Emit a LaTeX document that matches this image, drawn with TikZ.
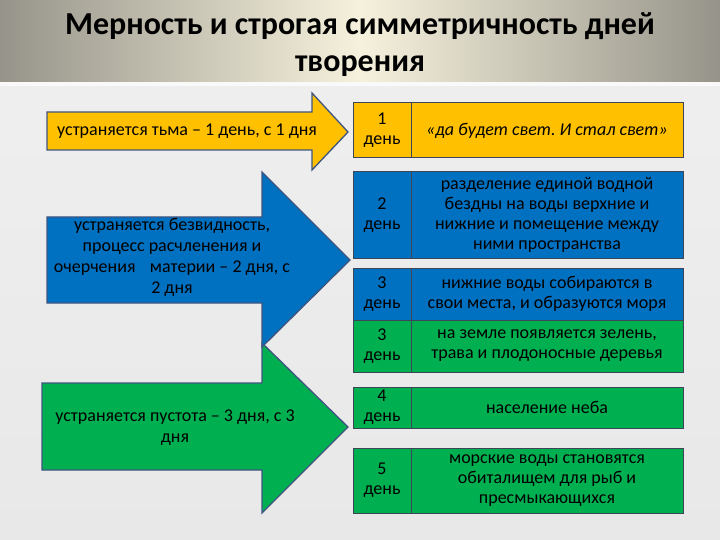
\documentclass[tikz,border=0pt]{standalone}
\usepackage{fontspec}
\setmainfont{Carlito}
\frenchspacing
\definecolor{ylw}{HTML}{FFC000}
\definecolor{blu}{HTML}{0070C0}
\definecolor{grn}{HTML}{00B050}
\definecolor{edge}{HTML}{3F5580}
\definecolor{celledge}{HTML}{3C4656}
\definecolor{bandgray}{HTML}{96948A}
\definecolor{bandlight}{HTML}{F6F1DC}
\begin{document}
\begin{tikzpicture}[x=1pt,y=-1pt,
  arrowshape/.style={draw=edge,line width=1.3pt,line join=miter},
  arrowtext/.style={align=center,font=\fontsize{18}{21}\selectfont,text=black},
  cell/.style={draw=celledge,line width=1pt,inner sep=1pt,align=center,text=black,font=\fontsize{18}{20}\selectfont},
  daycell/.style={cell,minimum width=58pt},
  txtcell/.style={cell,minimum width=272pt}]
\useasboundingbox (0,0) rectangle (720,540);
% background
\shade[top color=white!88!gray, bottom color=white!82!gray] (0,0) rectangle (720,540);
% title band
\shade[left color=bandgray, right color=bandgray, middle color=bandlight] (0,0) rectangle (720,82);
\fill[white!95!gray] (0,82) rectangle (720,86);
\node[font=\bfseries\fontsize{32}{37}\selectfont,align=center] (title) at (360,45)
  {Мерность и строгая симметричность дней\\творения};
% green arrow (under blue)
\draw[arrowshape,fill=grn] (42,383) -- (262,383) -- (262,343) -- (348,427) -- (262,513) -- (262,470) -- (42,470) -- cycle;
% blue arrow
\draw[arrowshape,fill=blu] (47,217) -- (262,217) -- (262,172) -- (350,260) -- (262,347) -- (262,303) -- (47,303) -- cycle;
% yellow arrow
\draw[arrowshape,fill=ylw] (47,112) -- (312,112) -- (312,93) -- (348,132) -- (312,170) -- (312,150) -- (47,150) -- cycle;
% arrow texts
\node[arrowtext] (a1) at (187,131) {устраняется тьма – 1 день, с 1 дня};
\node[arrowtext] (a2) at (172,257) {устраняется безвидность,\\процесс расчленения и\\очерчения\hspace{0.8em}материи – 2 дня, с\\2 дня};
\node[arrowtext] (a3) at (175,428) {устраняется пустота – 3 дня, с 3\\дня};
% table rows
\node[daycell,fill=ylw,minimum height=55pt] (d1) at (382,130.5) {1\\день};
\node[txtcell,fill=ylw,minimum height=55pt,font=\itshape\fontsize{18}{20}\selectfont] (t1) at (547,130.5) {«да будет свет. И стал свет»};
\node[daycell,fill=blu,minimum height=86pt] (d2) at (382,215) {2\\день};
\node[txtcell,fill=blu,minimum height=86pt] (t2) at (547,215) {разделение единой водной\\бездны на воды верхние и\\нижние и помещение между\\ними пространства};
\node[daycell,fill=blu,minimum height=52pt] (d3) at (382,294) {3\\день};
\node[txtcell,fill=blu,minimum height=52pt] (t3) at (547,294) {нижние воды собираются в\\свои места, и образуются моря};
\node[daycell,fill=grn,minimum height=52pt] (d4) at (382,346) {3\\день};
\node[txtcell,fill=grn,minimum height=52pt] (t4) at (547,346) {на земле появляется зелень,\\трава и плодоносные деревья};
\node[daycell,fill=grn,minimum height=41pt] (d5) at (382,407.5) {4\\день};
\node[txtcell,fill=grn,minimum height=41pt] (t5) at (547,407.5) {население неба};
\node[daycell,fill=grn,minimum height=65pt] (d6) at (382,480.5) {5\\день};
\node[txtcell,fill=grn,minimum height=65pt] (t6) at (547,480.5) {морские воды становятся\\обиталищем для рыб и\\пресмыкающихся};
\end{tikzpicture}
\end{document}
